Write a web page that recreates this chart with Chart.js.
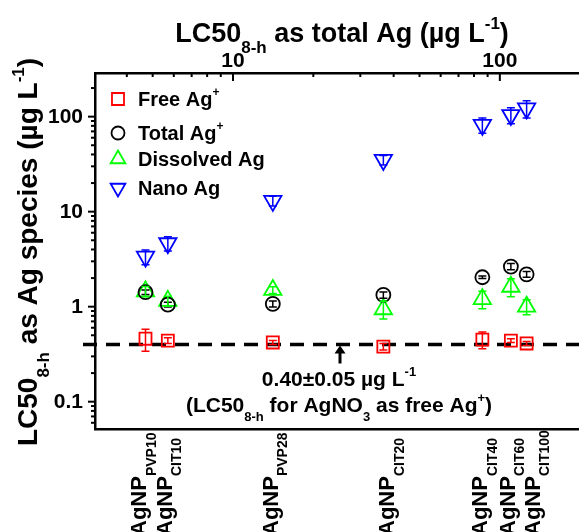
<!DOCTYPE html>
<html>
<head>
<meta charset="utf-8">
<script src="https://cdn.jsdelivr.net/npm/chart.js@4"></script>
<style>
  html, body { margin: 0; padding: 0; background: #fff; }
  #wrap { width: 579px; height: 532px; }
</style>
</head>
<body>
<div id="wrap"><canvas id="lc50_chart" width="579" height="532"></canvas></div>
<script>
// AgNP types (bottom labels) and their LC50 as total Ag (top axis)
var particles = ['PVP10', 'CIT10', 'PVP28', 'CIT20', 'CIT40', 'CIT60', 'CIT100'];
var totalAgLC50 = [4.7, 5.7, 14.1, 36.6, 86, 110, 126];

// LC50 as each Ag species, with error bars
var freeAg = [0.46, 0.44, 0.42, 0.38, 0.45, 0.44, 0.41];
var freeAgErr = [0.12, 0.03, 0.02, 0.03, 0.09, 0.02, 0.02];
var totalAg = [1.42, 1.05, 1.07, 1.33, 2.04, 2.64, 2.19];
var totalAgErr = [0.08, 0.06, 0.08, 0.1, 0.06, 0.2, 0.15];
var dissolvedAg = [1.45, 1.15, 1.5, 0.94, 1.2, 1.62, 1.0];
var dissolvedAgErr = [0.18, 0.14, 0.12, 0.2, 0.25, 0.35, 0.18];
var nanoAg = [3.36, 4.65, 13, 35, 82, 104, 122];
var nanoAgErr = [0.6, 0.8, 1.5, 4, 15, 20, 25];

// AgNO3 reference (free Ag+)
var agno3LC50 = 0.40;

// labelled ticks
var yTickLabels = [0.1, 1, 10, 100];
var xTickLabels = [10, 100];

var FONT = '"Liberation Sans", Arial, Helvetica, sans-serif';

// text with sub ('b') / sup ('p') parts
function drawRich(ctx, parts, x, y, size, align) {
  var widths = [], total = 0;
  parts.forEach(function(p) {
    ctx.font = 'bold ' + (p[1] === 'n' ? size : Math.round(size * 0.62)) + 'px ' + FONT;
    var w = ctx.measureText(p[0]).width;
    widths.push(w);
    total += w;
  });
  var cx = align === 'center' ? x - total / 2 : x;
  ctx.textAlign = 'left';
  ctx.textBaseline = 'alphabetic';
  parts.forEach(function(p, i) {
    var s = p[1] === 'n' ? size : Math.round(size * 0.62);
    var dy = p[1] === 'b' ? size * 0.42 : (p[1] === 'p' ? -size * 0.48 : 0);
    ctx.font = 'bold ' + s + 'px ' + FONT;
    ctx.fillText(p[0], cx, y + dy);
    cx += widths[i];
  });
}

function points(ys) {
  return totalAgLC50.map(function(x, i) { return {x: x, y: ys[i]}; });
}

var series = [
  {label: 'Free Ag', sup: '+', data: freeAg, err: freeAgErr, color: '#ff0000', style: 'rect', r: 8.5, rot: 0},
  {label: 'Total Ag', sup: '+', data: totalAg, err: totalAgErr, color: '#000000', style: 'circle', r: 7, rot: 0},
  {label: 'Dissolved Ag', sup: '', data: dissolvedAg, err: dissolvedAgErr, color: '#00ff00', style: 'triangle', r: 10, rot: 0},
  {label: 'Nano Ag', sup: '', data: nanoAg, err: nanoAgErr, color: '#0000ff', style: 'triangle', r: 10, rot: 180}
];

var datasets = series.map(function(s) {
  return {
    label: s.label,
    data: points(s.data),
    errors: s.err,
    borderColor: s.color,
    backgroundColor: 'rgba(0,0,0,0)',
    pointStyle: s.style,
    pointRadius: s.r,
    pointRotation: s.rot,
    pointBorderWidth: 1.8
  };
});

// small hand nudges of the bottom labels, as in the original figure
var labelNudge = [1, 4, 5, 11, 5, 4, 13];

var decorations = {
  id: 'decorations',
  beforeDatasetsDraw: function(chart) {
    var ctx = chart.ctx, area = chart.chartArea;
    var y = chart.scales.y.getPixelForValue(agno3LC50);
    ctx.save();
    ctx.strokeStyle = '#000';
    ctx.lineWidth = 3.5;
    ctx.setLineDash([14, 9]);
    ctx.beginPath();
    ctx.moveTo(area.left - 12, y);
    ctx.lineTo(area.right, y);
    ctx.stroke();
    ctx.restore();
  },
  afterDatasetsDraw: function(chart) {
    // error bars
    var ctx = chart.ctx, xs = chart.scales.x, ys = chart.scales.y;
    ctx.save();
    ctx.lineWidth = 1.5;
    chart.data.datasets.forEach(function(ds) {
      ctx.strokeStyle = ds.borderColor;
      ds.data.forEach(function(p, i) {
        var e = ds.errors[i];
        var px = xs.getPixelForValue(p.x);
        var top = ys.getPixelForValue(p.y + e);
        var bot = ys.getPixelForValue(p.y - e);
        ctx.beginPath();
        ctx.moveTo(px, top); ctx.lineTo(px, bot);
        ctx.moveTo(px - 4, top); ctx.lineTo(px + 4, top);
        ctx.moveTo(px - 4, bot); ctx.lineTo(px + 4, bot);
        ctx.stroke();
      });
    });
    ctx.restore();
  },
  afterDraw: function(chart) {
    var ctx = chart.ctx, area = chart.chartArea;
    var xs = chart.scales.x, ys = chart.scales.y, xb = chart.scales.xb;
    ctx.save();
    ctx.strokeStyle = '#000';
    ctx.fillStyle = '#000';
    ctx.lineWidth = 2;

    // y ticks (outward)
    var k, m, v, p;
    for (k = -2; k <= 3; k++) {
      for (m = 1; m <= 9; m++) {
        v = m * Math.pow(10, k);
        if (v < ys.min || v > ys.max) continue;
        p = ys.getPixelForValue(v);
        ctx.beginPath();
        ctx.moveTo(area.left - (m === 1 ? 7 : 4), p);
        ctx.lineTo(area.left, p);
        ctx.stroke();
      }
    }
    ctx.font = 'bold 21px ' + FONT;
    ctx.textAlign = 'right';
    ctx.textBaseline = 'middle';
    yTickLabels.forEach(function(t) {
      ctx.fillText(String(t), area.left - 12, ys.getPixelForValue(t) + 1);
    });

    // top x ticks (inward)
    for (k = 0; k <= 3; k++) {
      for (m = 1; m <= 9; m++) {
        v = m * Math.pow(10, k);
        if (v < xs.min || v > xs.max) continue;
        p = xs.getPixelForValue(v);
        ctx.beginPath();
        ctx.moveTo(p, area.top);
        ctx.lineTo(p, area.top + (m === 1 ? 8 : 4));
        ctx.stroke();
      }
    }
    ctx.font = 'bold 21px ' + FONT;
    ctx.textAlign = 'center';
    ctx.textBaseline = 'alphabetic';
    xTickLabels.forEach(function(t) {
      ctx.fillText(String(t), xs.getPixelForValue(t), area.top - 6);
    });

    // top title
    drawRich(ctx, [['LC50', 'n'], ['8-h', 'b'], [' as total Ag (\u00b5g L', 'n'], ['-1', 'p'], [')', 'n']],
      342, 42, 27, 'center');

    // y title
    ctx.save();
    ctx.translate(37, 252);
    ctx.rotate(-Math.PI / 2);
    drawRich(ctx, [['LC50', 'n'], ['8-h', 'b'], [' as Ag species (\u00b5g L', 'n'], ['-1', 'p'], [')', 'n']],
      0, 0, 28, 'center');
    ctx.restore();

    // bottom labels, rotated
    particles.forEach(function(name, i) {
      var px = xb.getPixelForValue(totalAgLC50[i]);
      ctx.save();
      ctx.translate(px + labelNudge[i], area.bottom + 107);
      ctx.rotate(-Math.PI / 2);
      drawRich(ctx, [['AgNP', 'n'], [name, 'b']], 0, 0, 22, 'left');
      ctx.restore();
    });

    // legend
    var rows = [26, 60, 86, 115];
    series.forEach(function(s, i) {
      var ly = area.top + rows[i];
      ctx.save();
      ctx.strokeStyle = s.color;
      ctx.fillStyle = 'rgba(0,0,0,0)';
      ctx.lineWidth = 1.8;
      Chart.helpers.drawPoint(ctx, {
        pointStyle: s.style,
        radius: s.style === 'triangle' ? 8.5 : (s.style === 'rect' ? 8.5 : 6.5),
        rotation: s.rot,
        borderWidth: 1.8
      }, area.left + 23, ly);
      ctx.restore();
      var parts = [[s.label, 'n']];
      if (s.sup) parts.push([s.sup, 'p']);
      ctx.fillStyle = '#000';
      drawRich(ctx, parts, area.left + 43, ly + 7, 20, 'left');
    });

    // AgNO3 annotation
    var ax = (area.left + area.right) / 2 + 3;
    var ay = ys.getPixelForValue(agno3LC50);
    ctx.lineWidth = 3;
    ctx.beginPath();
    ctx.moveTo(ax, ay + 19);
    ctx.lineTo(ax, ay + 5);
    ctx.stroke();
    ctx.beginPath();
    ctx.moveTo(ax, ay + 1);
    ctx.lineTo(ax - 5.5, ay + 9);
    ctx.lineTo(ax + 5.5, ay + 9);
    ctx.closePath();
    ctx.fill();
    drawRich(ctx, [['0.40\u00b10.05 \u00b5g L', 'n'], ['-1', 'p']], ax - 1, ay + 42, 21, 'center');
    drawRich(ctx, [['(LC50', 'n'], ['8-h', 'b'], [' for AgNO', 'n'], ['3', 'b'], [' as free Ag', 'n'], ['+', 'p'], [')', 'n']],
      ax - 1, ay + 68, 21, 'center');
    ctx.restore();
  }
};

var axisCommon = {
  type: 'logarithmic',
  grid: {display: false, drawTicks: false},
  ticks: {display: false},
  border: {display: true, color: '#000', width: 2.5}
};

var lc = document.getElementById('lc50_chart');
var lc50Chart = new Chart(lc, {
  type: 'scatter',
  data: {datasets: datasets},
  options: {
    responsive: false,
    animation: false,
    devicePixelRatio: 1,
    layout: {autoPadding: false, padding: {left: 95, top: 73, right: 0, bottom: 103}},
    plugins: {legend: {display: false}, tooltip: {enabled: false}},
    scales: {
      x: Object.assign({}, axisCommon, {position: 'top', min: 3.04, max: 198}),
      xb: Object.assign({}, axisCommon, {position: 'bottom', min: 3.04, max: 198}),
      y: Object.assign({}, axisCommon, {position: 'left', min: 0.0516, max: 288})
    }
  },
  plugins: [decorations]
});
</script>
</body>
</html>
